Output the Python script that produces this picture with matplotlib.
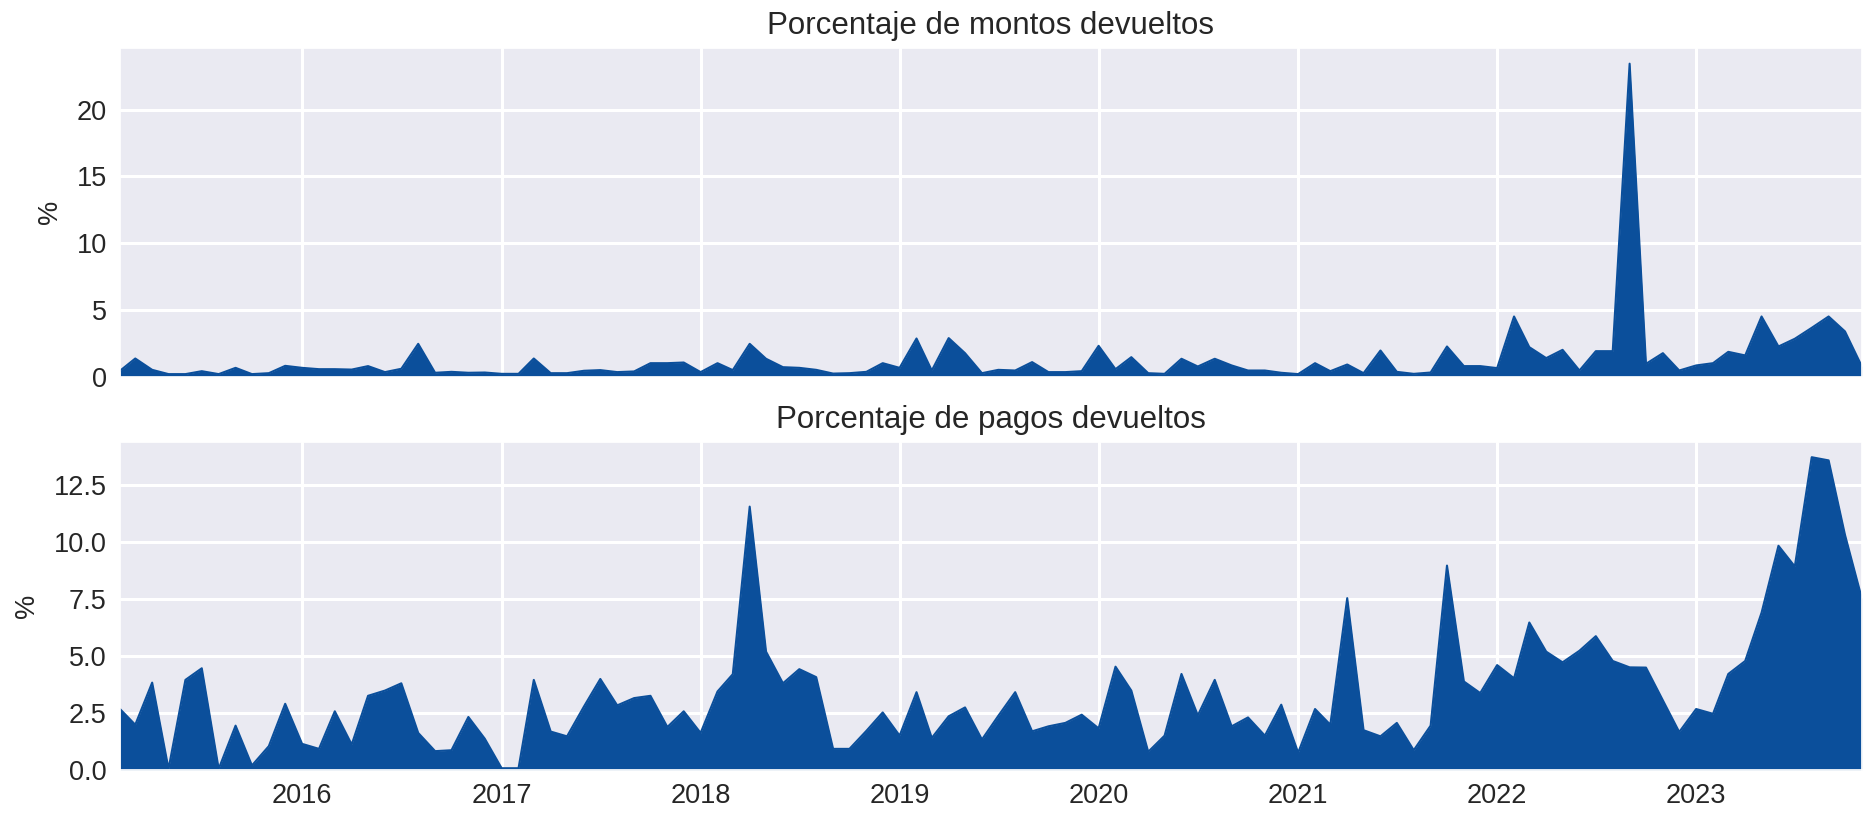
import numpy as np
import pandas as pd
import matplotlib
matplotlib.use("Agg")
import matplotlib.pyplot as plt
import matplotlib.dates as mdates
import seaborn as sns

# monthly series, Feb 2015 - Nov 2023
months = pd.date_range("2015-02-01", "2023-11-01", freq="MS")

montos = [
    0.43, 1.35, 0.50, 0.18, 0.18, 0.40, 0.18, 0.65, 0.18, 0.25, 0.80,
    0.65, 0.55, 0.55, 0.52, 0.78, 0.33, 0.58, 2.45, 0.28, 0.35, 0.28, 0.30,
    0.20, 0.20, 1.35, 0.25, 0.25, 0.43, 0.48, 0.33, 0.38, 1.00, 1.00, 1.05,
    0.33, 1.00, 0.48, 2.45, 1.33, 0.70, 0.65, 0.50, 0.22, 0.25, 0.35, 1.00,
    0.65, 2.85, 0.45, 2.88, 1.75, 0.25, 0.50, 0.45, 1.08, 0.33, 0.33, 0.40,
    2.30, 0.55, 1.45, 0.25, 0.20, 1.33, 0.75, 1.33, 0.83, 0.45, 0.45, 0.28,
    0.18, 1.00, 0.40, 0.90, 0.25, 1.95, 0.35, 0.20, 0.30, 2.25, 0.78, 0.78,
    0.63, 4.50, 2.20, 1.38, 2.00, 0.45, 1.90, 1.90, 23.45, 0.95, 1.75, 0.45,
    0.83, 1.00, 1.85, 1.58, 4.50, 2.25, 2.83, 3.65, 4.50, 3.38, 0.75,
]

pagos = [
    2.68, 1.99, 3.84, 0.05, 3.96, 4.47, 0.05, 1.95, 0.20, 1.05, 2.91,
    1.15, 0.93, 2.58, 1.12, 3.26, 3.49, 3.81, 1.63, 0.83, 0.87, 2.33, 1.38,
    0.08, 0.08, 3.96, 1.69, 1.48, 2.79, 4.00, 2.84, 3.16, 3.26, 1.89, 2.58,
    1.63, 3.45, 4.21, 11.57, 5.20, 3.81, 4.43, 4.08, 0.93, 0.93, 1.72, 2.53,
    1.51, 3.42, 1.41, 2.36, 2.75, 1.34, 2.38, 3.42, 1.70, 1.92, 2.07, 2.43,
    1.83, 4.54, 3.49, 0.80, 1.51, 4.22, 2.40, 3.96, 1.92, 2.31, 1.51, 2.87,
    0.76, 2.68, 1.99, 7.55, 1.75, 1.48, 2.07, 0.87, 1.95, 8.98, 3.89, 3.38,
    4.61, 4.03, 6.48, 5.20, 4.73, 5.24, 5.88, 4.79, 4.51, 4.50, 3.06, 1.67,
    2.68, 2.47, 4.22, 4.79, 6.91, 9.85, 8.94, 13.74, 13.60, 10.33, 7.53,
]

titles = ["Porcentaje de montos devueltos", "Porcentaje de pagos devueltos"]
color = "#0b4f9b"

sns.set_theme(style="darkgrid")
plt.rcParams["font.family"] = ["Liberation Sans", "DejaVu Sans"]
plt.rcParams["grid.linewidth"] = 2.2

fig, axes = plt.subplots(2, 1, figsize=(18.75, 8.14), dpi=100, sharex=True)
fig.subplots_adjust(left=0.064, right=0.993, top=0.941, bottom=0.054, hspace=0.198)

for ax, series, title in zip(axes, [montos, pagos], titles):
    ax.fill_between(months, 0, series, color=color, linewidth=0)
    ax.plot(months, series, color=color, linewidth=1.5, solid_capstyle="round")
    ax.set_title(title, fontsize=22.5, pad=10, color="#262626")
    ax.set_ylabel("%", fontsize=19.5, color="#262626", labelpad=10)
    ax.set_ylim(bottom=0)
    ax.tick_params(axis="both", labelsize=19.5, colors="#262626")

axes[0].set_yticks([0, 5, 10, 15, 20])
axes[1].set_yticks([0, 2.5, 5, 7.5, 10, 12.5])
axes[1].set_xlim(months[0], months[-1])
axes[1].xaxis.set_major_locator(mdates.YearLocator())
axes[1].xaxis.set_major_formatter(mdates.DateFormatter("%Y"))

fig.savefig("out.png", dpi=100)
